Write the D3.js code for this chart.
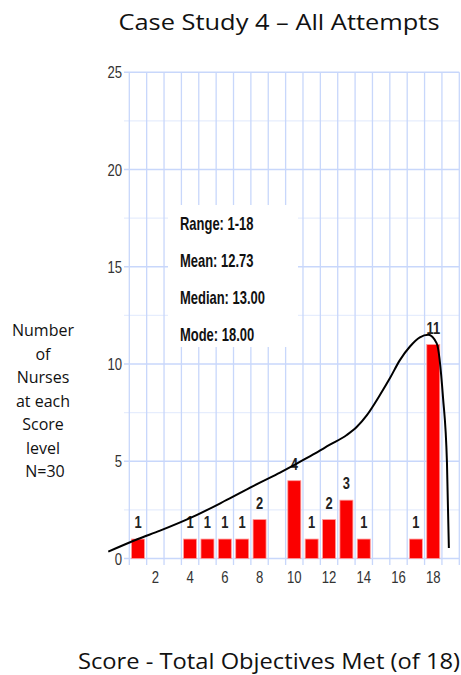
<!DOCTYPE html>
<html>
<head>
<meta charset="utf-8">
<script src="https://cdn.jsdelivr.net/npm/d3@7"></script>
<style>
  body { margin: 0; background: #fff; }
  .narrow { font-family: "Liberation Sans", Arial, sans-serif; }
</style>
</head>
<body>
<div id="chart"></div>
<script>
// histogram data
const scores = [1, 4, 5, 6, 7, 8, 10, 11, 12, 13, 14, 17, 18];
const counts = [1, 1, 1, 1, 1, 2, 4, 1, 2, 3, 1, 1, 11];
const xTicks = [2, 4, 6, 8, 10, 12, 14, 16, 18];
const yTicks = [0, 5, 10, 15, 20, 25];
const statsLines = ["Range: 1-18", "Mean: 12.73", "Median: 13.00", "Mode: 18.00"];
const yLabelLines = ["Number", "of", "Nurses", "at each", "Score", "level", "N=30"];

// fitted curve
const curveX = [-0.71, 1.0, 2.27, 4.18, 6.11, 8.02, 9.18, 10.14, 11.09, 12.05, 13.02, 13.59, 14.17, 14.93, 15.51, 16.08, 16.66, 17.23, 17.71, 18.2, 18.56, 18.79, 18.9];
const curveY = [0.35, 1.0, 1.43, 2.15, 3.01, 3.9, 4.42, 4.88, 5.35, 5.85, 6.35, 6.76, 7.36, 8.41, 9.28, 10.2, 10.9, 11.37, 11.5, 11.06, 8.3, 4.91, 0.54];

const width = 461, height = 675;
const svg = d3.select("#chart").append("svg")
  .attr("width", width).attr("height", height);

const x = d3.scaleLinear().domain([0.5, 19.5]).range([129.3, 459.3]);
const y = d3.scaleLinear().domain([0, 25]).range([558.5, 72.3]);

// condensed look: squeeze text horizontally around its anchor
const squeeze = (sel, fx, fy, k) =>
  sel.attr("transform", (d, i) => `translate(${fx(d, i)},${fy(d, i)}) scale(${k},1)`);

// grid
const grid = svg.append("g");
grid.selectAll(".hminor")
  .data(d3.range(2.5, 25, 5))
  .enter().append("line")
  .attr("x1", 124).attr("x2", x(19.5))
  .attr("y1", d => y(d)).attr("y2", d => y(d))
  .attr("stroke", "#e6edfd").attr("stroke-width", 1.3);
grid.selectAll(".hmajor")
  .data(yTicks)
  .enter().append("line")
  .attr("x1", 124).attr("x2", x(19.5))
  .attr("y1", d => y(d)).attr("y2", d => y(d))
  .attr("stroke", "#c8d7fb").attr("stroke-width", 1.5);
grid.selectAll(".vline")
  .data(d3.range(0.5, 20, 1))
  .enter().append("line")
  .attr("x1", d => x(d)).attr("x2", d => x(d))
  .attr("y1", y(25)).attr("y2", y(0) + 6.5)
  .attr("stroke", "#c8d7fb").attr("stroke-width", 1.3);

// stats box (covers grid)
svg.append("rect")
  .attr("x", 168).attr("y", 205).attr("width", 130).attr("height", 142)
  .attr("fill", "#fff");
svg.append("g").selectAll("text")
  .data(statsLines)
  .enter().append("text")
  .attr("class", "narrow")
  .call(squeeze, () => 180, (d, i) => 229.5 + i * 37.3, 0.72)
  .attr("font-size", 18).attr("font-weight", "bold").attr("fill", "#111")
  .text(d => d);

// axis tick labels
svg.append("g").selectAll("text")
  .data(yTicks)
  .enter().append("text")
  .attr("class", "narrow")
  .call(squeeze, () => 122, d => y(d) + 6, 0.82)
  .attr("text-anchor", "end")
  .attr("font-size", 16).attr("fill", "#333")
  .text(d => d);
svg.append("g").selectAll("text")
  .data(xTicks)
  .enter().append("text")
  .attr("class", "narrow")
  .call(squeeze, d => x(d), () => 583, 0.82)
  .attr("text-anchor", "middle")
  .attr("font-size", 16).attr("fill", "#333")
  .text(d => d);

// bars
const barW = 13;
const bars = svg.append("g");
bars.selectAll("rect")
  .data(scores)
  .enter().append("rect")
  .attr("x", d => x(d) - barW / 2)
  .attr("y", (d, i) => y(counts[i]))
  .attr("width", barW)
  .attr("height", (d, i) => y(0) - y(counts[i]))
  .attr("fill", "#fb0000")
  .attr("stroke", "#ff9a9a").attr("stroke-width", 0.8);
bars.selectAll("text")
  .data(scores)
  .enter().append("text")
  .attr("class", "narrow")
  .call(squeeze, d => x(d), (d, i) => y(counts[i]) - 11, 0.76)
  .attr("text-anchor", "middle")
  .attr("font-size", 17).attr("font-weight", "bold").attr("fill", "#222")
  .text((d, i) => counts[i]);

// fit curve
const pts = curveX.map((v, i) => [x(v), y(curveY[i])]);
svg.append("path")
  .attr("d", d3.line().curve(d3.curveMonotoneX)(pts))
  .attr("fill", "none").attr("stroke", "#000").attr("stroke-width", 2);

// titles
svg.append("text")
  .attr("x", 279).attr("y", 30)
  .attr("text-anchor", "middle")
  .attr("font-family", "'Open Sans', 'Noto Sans', sans-serif")
  .attr("font-size", 21).attr("fill", "#111")
  .attr("textLength", 321).attr("lengthAdjust", "spacingAndGlyphs")
  .text("Case Study 4 \u2013 All Attempts");

svg.append("text")
  .attr("x", 269).attr("y", 669)
  .attr("text-anchor", "middle")
  .attr("font-family", "'Open Sans', 'Noto Sans', sans-serif")
  .attr("font-size", 21).attr("fill", "#111")
  .attr("textLength", 382).attr("lengthAdjust", "spacingAndGlyphs")
  .text("Score - Total Objectives Met (of 18)");

svg.append("g").selectAll("text")
  .data(yLabelLines)
  .enter().append("text")
  .attr("x", (d, i) => i === 6 ? 45 : 43)
  .attr("y", (d, i) => 336 + i * 23.5)
  .attr("text-anchor", "middle")
  .attr("font-family", "'Open Sans', 'Noto Sans', sans-serif")
  .attr("font-size", 16).attr("fill", "#111")
  .text(d => d);
</script>
</body>
</html>
